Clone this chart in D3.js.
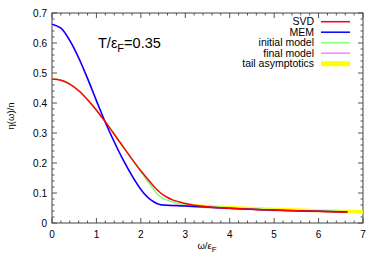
<!DOCTYPE html>
<html><head><meta charset="utf-8">
<script src="https://cdn.jsdelivr.net/npm/d3@7"></script>
<style>body{margin:0;background:#fff}svg{display:block}text{font-family:"Liberation Sans",Arial,sans-serif}</style>
</head><body><svg id="c" width="382" height="268"></svg>
<script>
const svdW = [0,0.2,0.4,0.6,0.8,1.0,1.2,1.4,1.6,1.8,2.0,2.2,2.3,2.4,2.5,2.6,2.7,2.8,2.9,3.0,3.2,3.5,4.0,4.5,5.0,5.5,6.0,6.65];
const svdV = [0.480,0.476,0.463,0.441,0.411,0.376,0.337,0.296,0.254,0.213,0.174,0.138,0.121,0.106,0.094,0.085,0.078,0.073,0.069,0.065,0.059,0.054,0.049,0.046,0.043,0.041,0.039,0.036];
const memW = [0,0.2,0.4,0.6,0.8,1.0,1.2,1.4,1.6,1.8,2.0,2.1,2.2,2.3,2.4,2.45,2.6,2.8,3.0,3.5,4.0,4.5,5.0,5.5,6.0,6.65];
const memV = [0.663,0.650,0.609,0.551,0.482,0.408,0.336,0.271,0.211,0.158,0.112,0.094,0.080,0.070,0.063,0.061,0.059,0.058,0.057,0.053,0.049,0.046,0.043,0.041,0.039,0.037];
const initW = [0,0.2,0.4,0.6,0.8,1.0,1.2,1.4,1.6,1.8,2.0,2.1,2.2,2.3,2.4,2.5,2.6,2.7,2.8,2.9,3.0,3.5,4.0,4.5,5.0,5.5,6.0,6.65];
const initV = [0.481,0.477,0.464,0.442,0.412,0.377,0.338,0.297,0.255,0.213,0.171,0.150,0.130,0.110,0.092,0.082,0.076,0.071,0.066,0.062,0.060,0.055,0.051,0.047,0.045,0.042,0.040,0.038];
const finalW = [0,0.2,0.4,0.6,0.8,1.0,1.2,1.4,1.6,1.8,2.0,2.1,2.2,2.3,2.4,2.45,2.6,2.8,3.0,3.5,4.0,4.5,5.0,5.5,6.0,6.65];
const finalV = [0.661,0.648,0.607,0.549,0.480,0.406,0.335,0.270,0.210,0.157,0.111,0.093,0.079,0.069,0.062,0.060,0.058,0.057,0.056,0.052,0.048,0.045,0.042,0.040,0.038,0.036];
const tailW = [3.0,3.5,4.0,4.5,5.0,5.5,6.0,6.5,7.0];
const tailV = [0.060,0.055,0.051,0.048,0.045,0.043,0.041,0.039,0.037];
const xTicks = [0,1,2,3,4,5,6,7];
const yTicks = [0,0.1,0.2,0.3,0.4,0.5,0.6,0.7];
const legendNames = ["SVD","MEM","initial model","final model","tail asymptotics"];
const colors = ["#ff0000","#0000ff","#80ff80","#ff80ff","#ffff00"];

const svg = d3.select("#c");
const L=52,R=363,T=13,B=223;
const x = d3.scaleLinear().domain([0,7]).range([L,R]);
const y = d3.scaleLinear().domain([0,0.7]).range([B,T]);
const line = d3.line().x(d=>x(d[0])).y(d=>y(d[1])).curve(d3.curveCatmullRom.alpha(0.5));
const zip=(a,b)=>a.map((v,i)=>[v,b[i]]);

const g = svg.append("g");
const minorX = d3.range(0,7.001,0.2), minorY = d3.range(0,0.7001,0.02);
const tickCol="#555";
minorX.forEach(v=>{
  const maj = Math.abs(v-Math.round(v))<1e-6, len = maj?5:2.5;
  g.append("line").attr("x1",x(v)).attr("x2",x(v)).attr("y1",B).attr("y2",B-len).attr("stroke",tickCol);
  g.append("line").attr("x1",x(v)).attr("x2",x(v)).attr("y1",T).attr("y2",T+len).attr("stroke",tickCol);
});
minorY.forEach(v=>{
  const maj = Math.abs(v*10-Math.round(v*10))<1e-6, len = maj?5:2.5;
  g.append("line").attr("x1",L).attr("x2",L+len).attr("y1",y(v)).attr("y2",y(v)).attr("stroke",tickCol);
  g.append("line").attr("x1",R).attr("x2",R-len).attr("y1",y(v)).attr("y2",y(v)).attr("stroke",tickCol);
});
g.append("rect").attr("x",L).attr("y",T).attr("width",R-L).attr("height",B-T).attr("fill","none").attr("stroke","#444");

xTicks.forEach(v=>g.append("text").attr("x",x(v)).attr("y",237.5).attr("text-anchor","middle").attr("font-size",10).text(v));
yTicks.forEach(v=>g.append("text").attr("x",47).attr("y",y(v)).attr("dy","0.35em").attr("text-anchor","end").attr("font-size",10).text(v===0?"0":v.toFixed(1)));

const plots = [
  {d:zip(tailW,tailV), c:colors[4], w:3.5},
  {d:zip(initW,initV), c:colors[2], w:1.5},
  {d:zip(finalW,finalV), c:colors[3], w:1.5},
  {d:zip(memW,memV), c:colors[1], w:1.5},
  {d:zip(svdW,svdV), c:colors[0], w:1.5}
];
plots.forEach(p=>svg.append("path").attr("d",line(p.d)).attr("fill","none").attr("stroke",p.c).attr("stroke-width",p.w));

legendNames.forEach((n,i)=>{
  const cy = 21.7 + i*10.5;
  svg.append("text").attr("x",314).attr("y",cy+3.7).attr("text-anchor","end").attr("font-size",10.5).text(n);
  svg.append("line").attr("x1",321).attr("x2",350).attr("y1",cy).attr("y2",cy).attr("stroke",colors[i]).attr("stroke-width",i===4?5:1.5);
});

const t = svg.append("text").attr("x",98).attr("y",48).attr("font-size",14.5);
t.append("tspan").text("T/ε");
t.append("tspan").attr("font-size",11).attr("dy",4).text("F");
t.append("tspan").attr("dy",-4).text("=0.35");

const xl = svg.append("text").attr("x",207).attr("y",249).attr("text-anchor","middle").attr("font-size",9.5);
xl.append("tspan").text("ω/ε");
xl.append("tspan").attr("font-size",8).attr("dy",3).text("F");

svg.append("text").attr("transform","translate(14,116) rotate(-90)").attr("text-anchor","middle").attr("font-size",9.5).text("η(ω)/n");
</script></body></html>
